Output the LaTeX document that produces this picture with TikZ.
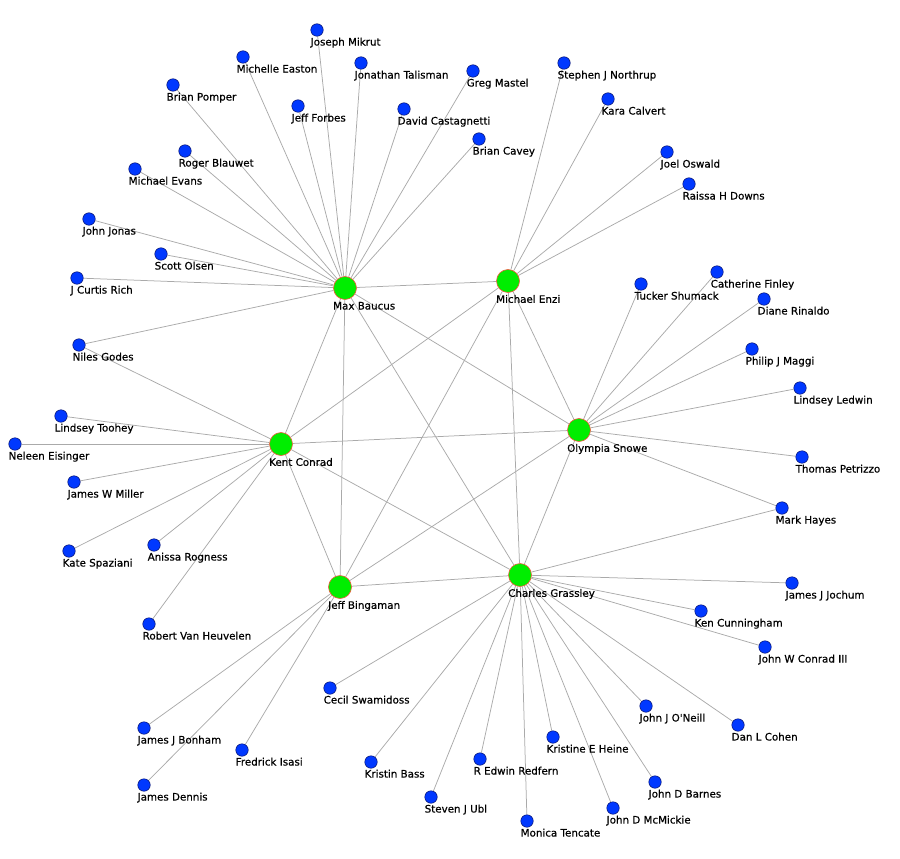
\documentclass[tikz,border=0pt]{standalone}
\usepackage{fontspec}
\newfontfamily\namefont{DejaVu Sans}[FakeBold=0.6]
\usetikzlibrary{backgrounds}
\definecolor{hubgreen}{RGB}{0,238,0}
\definecolor{hubrim}{RGB}{240,90,60}
\definecolor{leafblue}{RGB}{0,56,255}
\definecolor{leafrim}{RGB}{10,20,110}
\definecolor{linkgray}{RGB}{170,170,170}

\begin{document}
\begin{tikzpicture}[x=1pt, y=-1pt,
    lab/.style={anchor=north west, inner sep=1pt, text=black,
      font=\namefont\fontsize{10.3}{12}\selectfont},
    senator/.style={circle, draw=hubrim, line width=0.6pt, fill=hubgreen,
      minimum size=23pt, inner sep=0pt,
      label={[lab, xshift=-13pt, yshift=-1pt]below:#1}},
    staffer/.style={circle, draw=leafrim, line width=0.5pt, fill=leafblue,
      minimum size=12.5pt, inner sep=0pt,
      label={[lab, xshift=-7.5pt]below:#1}},
    link/.style={draw=linkgray, line width=0.75pt}]
  \useasboundingbox (0,0) rectangle (900,859);

  % senators
  \node[senator=Max Baucus] (mb) at (345,288) {};
  \node[senator=Michael Enzi] (me) at (508,281) {};
  \node[senator=Kent Conrad] (kc) at (281,444) {};
  \node[senator=Olympia Snowe] (os) at (579,430) {};
  \node[senator=Jeff Bingaman] (jb) at (340,587) {};
  \node[senator=Charles Grassley] (cg) at (520,575) {};

  % staff of Max Baucus
  \node[staffer=Joseph Mikrut] (jmik) at (317,30) {};
  \node[staffer=Michelle Easton] (mea) at (243,57) {};
  \node[staffer=Jonathan Talisman] (jtal) at (361,63) {};
  \node[staffer=Brian Pomper] (bpom) at (173,85) {};
  \node[staffer=Jeff Forbes] (jfor) at (298,106) {};
  \node[staffer=David Castagnetti] (dcas) at (404,109) {};
  \node[staffer=Greg Mastel] (gmas) at (473,71) {};
  \node[staffer=Brian Cavey] (bcav) at (479,139) {};
  \node[staffer=Roger Blauwet] (rbla) at (185,151) {};
  \node[staffer=Michael Evans] (mev) at (135,169) {};
  \node[staffer=John Jonas] (jjon) at (89,219) {};
  \node[staffer=Scott Olsen] (sols) at (161,254) {};
  \node[staffer=J Curtis Rich] (jcr) at (77,278) {};
  \node[staffer=Niles Godes] (ngod) at (79,345) {};

  % staff of Michael Enzi
  \node[staffer=Stephen J Northrup] (sjn) at (564,63) {};
  \node[staffer=Kara Calvert] (kcal) at (608,99) {};
  \node[staffer=Joel Oswald] (josw) at (667,152) {};
  \node[staffer=Raissa H Downs] (rhd) at (689,184) {};

  % staff of Olympia Snowe
  \node[staffer=Tucker Shumack] (tsh) at (641,284) {};
  \node[staffer=Catherine Finley] (cfin) at (717,272) {};
  \node[staffer=Diane Rinaldo] (drin) at (764,299) {};
  \node[staffer=Philip J Maggi] (pjm) at (752,349) {};
  \node[staffer=Lindsey Ledwin] (lled) at (800,388) {};
  \node[staffer=Thomas Petrizzo] (tpet) at (802,457) {};
  \node[staffer=Mark Hayes] (mhay) at (782,508) {};

  % staff of Kent Conrad
  \node[staffer=Lindsey Toohey] (ltoo) at (61,416) {};
  \node[staffer=Neleen Eisinger] (nele) at (15,444) {};
  \node[staffer=James W Miller] (jwm) at (74,482) {};
  \node[staffer=Kate Spaziani] (kspa) at (69,551) {};
  \node[staffer=Anissa Rogness] (aro) at (154,545) {};
  \node[staffer=Robert Van Heuvelen] (rvh) at (149,624) {};

  % staff of Jeff Bingaman
  \node[staffer=James J Bonham] (jjb) at (144,728) {};
  \node[staffer=James Dennis] (jden) at (144,785) {};
  \node[staffer=Fredrick Isasi] (fisa) at (242,750) {};

  % staff of Charles Grassley
  \node[staffer=Cecil Swamidoss] (cswa) at (330,688) {};
  \node[staffer=Kristin Bass] (kbas) at (371,762) {};
  \node[staffer=Steven J Ubl] (sjub) at (431,797) {};
  \node[staffer=R Edwin Redfern] (rer) at (480,759) {};
  \node[staffer=Monica Tencate] (mten) at (527,821) {};
  \node[staffer=Kristine E Heine] (kei) at (553,737) {};
  \node[staffer=John D McMickie] (jdm) at (613,808) {};
  \node[staffer=John D Barnes] (jdb) at (655,782) {};
  \node[staffer=John J O'Neill] (jjo) at (646,706) {};
  \node[staffer=Dan L Cohen] (dlc) at (738,725) {};
  \node[staffer=John W Conrad III] (jwc) at (765,647) {};
  \node[staffer=Ken Cunningham] (kcun) at (701,611) {};
  \node[staffer=James J Jochum] (jjj) at (792,583) {};

  \begin{scope}[on background layer]
    % senators among themselves
    \foreach \a/\b in {mb/me, mb/kc, mb/os, mb/jb, mb/cg, me/kc, me/os,
        me/jb, me/cg, kc/os, kc/jb, kc/cg, os/jb, os/cg, jb/cg}
      \draw[link] (\a) -- (\b);
    \foreach \s in {jmik, mea, jtal, bpom, jfor, dcas, gmas, bcav, rbla,
        mev, jjon, sols, jcr, ngod}
      \draw[link] (mb) -- (\s);
    \foreach \s in {sjn, kcal, josw, rhd}
      \draw[link] (me) -- (\s);
    \foreach \s in {tsh, cfin, drin, pjm, lled, tpet, mhay}
      \draw[link] (os) -- (\s);
    \foreach \s in {ngod, ltoo, nele, jwm, kspa, aro, rvh}
      \draw[link] (kc) -- (\s);
    \foreach \s in {jjb, jden, fisa}
      \draw[link] (jb) -- (\s);
    \foreach \s in {mhay, cswa, kbas, sjub, rer, mten, kei, jdm, jdb, jjo,
        dlc, jwc, kcun, jjj}
      \draw[link] (cg) -- (\s);
  \end{scope}
\end{tikzpicture}
\end{document}
